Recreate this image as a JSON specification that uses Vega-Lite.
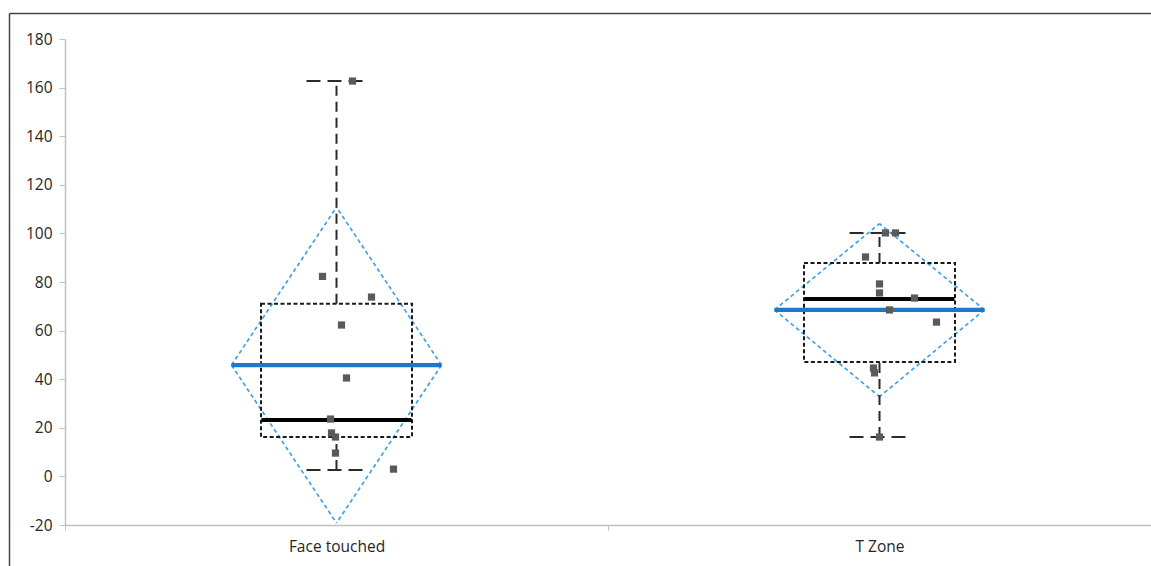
{
  "$schema": "https://vega.github.io/schema/vega-lite/v6.json",
  "width": 1086,
  "height": 486,
  "autosize": "none",
  "padding": {"left": 65, "top": 39, "right": 0, "bottom": 41},
  "background": "white",
  "config": {
    "view": {"stroke": null},
    "font": "Open Sans",
    "axis": {
      "grid": false,
      "domainColor": "#c0c0c0",
      "domainWidth": 1.5,
      "tickColor": "#c0c0c0",
      "labelColor": "#262626",
      "labelFont": "Open Sans",
      "labelFontSize": 15.5,
      "title": null
    }
  },
  "datasets": {
    "summary": [
      {"cat": "Face touched", "lower": 2.6, "q1": 16.2, "median": 23.2, "q3": 71, "upper": 162.7, "mean": 45.8, "ci_low": -19.2, "ci_high": 110.8},
      {"cat": "T Zone", "lower": 16.2, "q1": 47.1, "median": 73, "q3": 87.8, "upper": 100.2, "mean": 68.5, "ci_low": 32.8, "ci_high": 104}
    ],
    "points": [
      {"cat": "Face touched", "value": 162.7, "jitter": 16},
      {"cat": "Face touched", "value": 82.3, "jitter": -14},
      {"cat": "Face touched", "value": 73.8, "jitter": 35},
      {"cat": "Face touched", "value": 62.3, "jitter": 5},
      {"cat": "Face touched", "value": 40.5, "jitter": 10},
      {"cat": "Face touched", "value": 23.6, "jitter": -6},
      {"cat": "Face touched", "value": 17.9, "jitter": -5},
      {"cat": "Face touched", "value": 16.2, "jitter": -1},
      {"cat": "Face touched", "value": 9.6, "jitter": -1},
      {"cat": "Face touched", "value": 3, "jitter": 57},
      {"cat": "T Zone", "value": 100.2, "jitter": 6},
      {"cat": "T Zone", "value": 100.2, "jitter": 16},
      {"cat": "T Zone", "value": 90.3, "jitter": -14},
      {"cat": "T Zone", "value": 79.2, "jitter": 0},
      {"cat": "T Zone", "value": 75.5, "jitter": 0},
      {"cat": "T Zone", "value": 73.4, "jitter": 35},
      {"cat": "T Zone", "value": 68.5, "jitter": 10},
      {"cat": "T Zone", "value": 63.5, "jitter": 57},
      {"cat": "T Zone", "value": 44.6, "jitter": -6},
      {"cat": "T Zone", "value": 42.6, "jitter": -5},
      {"cat": "T Zone", "value": 16.2, "jitter": 0}
    ]
  },
  "resolve": {"scale": {"x": "independent", "y": "independent"}, "axis": {"x": "independent", "y": "independent"}},
  "layer": [
    {
      "encoding": {
        "x": {
          "field": "cat",
          "type": "nominal",
          "sort": null,
          "scale": {"domain": ["Face touched", "T Zone"], "paddingInner": 0, "paddingOuter": 0},
          "axis": {"labelAngle": 0, "tickBand": "extent", "tickSize": 5, "labelPadding": 9}
        }
      },
      "layer": [
        {
          "data": {"name": "summary"},
          "mark": {"type": "rule", "color": "#3ea3e3", "strokeWidth": 1.7, "strokeDash": [4, 3], "xOffset": -105, "x2Offset": 0},
          "encoding": {
            "x2": {"field": "cat"},
            "y": {"field": "mean", "type": "quantitative", "scale": {"domain": [-20, 180], "nice": false, "zero": false}, "axis": {"values": [-20, 0, 20, 40, 60, 80, 100, 120, 140, 160, 180], "tickSize": 6, "labelPadding": 7, "labelExpr": "'' + datum.value"}},
            "y2": {"field": "ci_high"}
          }
        },
        {
          "data": {"name": "summary"},
          "mark": {"type": "rule", "color": "#3ea3e3", "strokeWidth": 1.7, "strokeDash": [4, 3], "xOffset": 105, "x2Offset": 0},
          "encoding": {"x2": {"field": "cat"}, "y": {"field": "mean", "type": "quantitative"}, "y2": {"field": "ci_high"}}
        },
        {
          "data": {"name": "summary"},
          "mark": {"type": "rule", "color": "#3ea3e3", "strokeWidth": 1.7, "strokeDash": [4, 3], "xOffset": -105, "x2Offset": 0},
          "encoding": {"x2": {"field": "cat"}, "y": {"field": "mean", "type": "quantitative"}, "y2": {"field": "ci_low"}}
        },
        {
          "data": {"name": "summary"},
          "mark": {"type": "rule", "color": "#3ea3e3", "strokeWidth": 1.7, "strokeDash": [4, 3], "xOffset": 105, "x2Offset": 0},
          "encoding": {"x2": {"field": "cat"}, "y": {"field": "mean", "type": "quantitative"}, "y2": {"field": "ci_low"}}
        },
        {
          "data": {"name": "summary"},
          "mark": {"type": "bar", "size": 151, "fillOpacity": 0, "stroke": "#1a1a1a", "strokeWidth": 2, "strokeDash": [4, 2.5]},
          "encoding": {"y": {"field": "q1", "type": "quantitative"}, "y2": {"field": "q3"}}
        },
        {
          "data": {"name": "summary"},
          "mark": {"type": "rule", "color": "#2a2a2a", "strokeWidth": 2, "strokeDash": [10, 6]},
          "encoding": {"y": {"field": "q3", "type": "quantitative"}, "y2": {"field": "upper"}}
        },
        {
          "data": {"name": "summary"},
          "mark": {"type": "rule", "color": "#2a2a2a", "strokeWidth": 2, "strokeDash": [10, 6]},
          "encoding": {"y": {"field": "lower", "type": "quantitative"}, "y2": {"field": "q1"}}
        },
        {
          "data": {"name": "summary"},
          "mark": {"type": "rule", "color": "#2a2a2a", "strokeWidth": 2, "strokeDash": [14, 7], "xOffset": -30, "x2Offset": 30},
          "encoding": {"x2": {"field": "cat"}, "y": {"field": "upper", "type": "quantitative"}}
        },
        {
          "data": {"name": "summary"},
          "mark": {"type": "rule", "color": "#2a2a2a", "strokeWidth": 2, "strokeDash": [14, 7], "xOffset": -30, "x2Offset": 30},
          "encoding": {"x2": {"field": "cat"}, "y": {"field": "lower", "type": "quantitative"}}
        },
        {
          "data": {"name": "summary"},
          "mark": {"type": "rule", "color": "#000000", "strokeWidth": 4.2, "xOffset": -75, "x2Offset": 75},
          "encoding": {"x2": {"field": "cat"}, "y": {"field": "median", "type": "quantitative"}}
        },
        {
          "data": {"name": "summary"},
          "mark": {"type": "rule", "color": "#1e78c8", "strokeWidth": 4.2, "xOffset": -105, "x2Offset": 105},
          "encoding": {"x2": {"field": "cat"}, "y": {"field": "mean", "type": "quantitative"}}
        },
        {
          "data": {"name": "points"},
          "mark": {"type": "square", "size": 52, "color": "#5a5a5a", "opacity": 1, "filled": true},
          "encoding": {
            "y": {"field": "value", "type": "quantitative"},
            "xOffset": {"field": "jitter", "type": "quantitative", "scale": {"domain": [-271.5, 271.5]}}
          }
        }
      ]
    },
    {
      "data": {"name": "summary"},
      "mark": {"type": "rule", "opacity": 0},
      "encoding": {
        "x": {"field": "mean", "type": "quantitative", "scale": {"domain": [0, 1], "range": [-56, 1200]}, "axis": {"orient": "top", "offset": 26, "labels": false, "ticks": false, "domainColor": "#444444", "domainWidth": 1.5}},
        "y": {"field": "median", "type": "quantitative", "scale": {"domain": [0, 1], "range": [600, -26]}, "axis": {"orient": "left", "offset": 56, "labels": false, "ticks": false, "domainColor": "#444444", "domainWidth": 1.5}}
      }
    }
  ]
}
